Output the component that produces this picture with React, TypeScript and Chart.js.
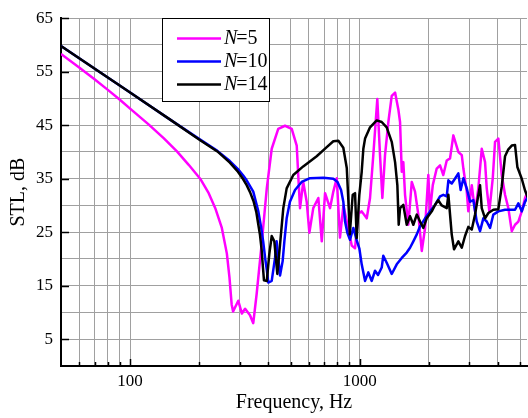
import React, { useEffect, useRef } from 'react';
import { Chart, registerables } from 'chart.js';

Chart.register(...registerables);

// ---- data (frequency in Hz, STL in dB) ----
const n5Freq = [50, 60, 70, 80, 90, 100, 120, 140, 160, 180, 202, 220, 235, 251, 264, 271, 277, 281, 296, 307, 317, 333, 344, 356, 374, 394, 414, 442, 473, 506, 532, 541, 550, 568, 588, 604, 628, 661, 684, 707, 743, 768, 795, 821, 850, 879, 924, 955, 987, 1021, 1074, 1110, 1147, 1194, 1227, 1256, 1290, 1334, 1380, 1427, 1474, 1500, 1526, 1550, 1577, 1630, 1687, 1743, 1802, 1865, 1928, 1992, 2026, 2083, 2167, 2240, 2315, 2396, 2477, 2560, 2692, 2786, 2831, 2929, 2976, 3080, 3183, 3290, 3404, 3519, 3579, 3674, 3802, 3890, 4021, 4160, 4300, 4445, 4600, 4754, 4914, 5085, 5256, 5400];
const n5Stl = [58.3, 55.8, 53.6, 51.6, 49.8, 48.1, 45.2, 42.6, 40.1, 37.6, 35.0, 32.3, 29.5, 25.8, 21.0, 16.5, 11.5, 10.2, 12.2, 9.8, 10.7, 9.5, 8.0, 13.5, 22.7, 33.2, 40.6, 44.3, 44.9, 44.3, 41.2, 35.1, 29.5, 34.4, 30.7, 24.9, 29.5, 31.4, 23.3, 32.3, 29.5, 32.6, 35.1, 24.0, 30.0, 27.0, 22.5, 22.0, 28.5, 28.9, 27.6, 31.4, 39.4, 49.9, 39.4, 31.4, 39.4, 45.6, 50.5, 51.1, 48.0, 45.6, 36.3, 38.1, 32.0, 26.4, 34.4, 32.6, 28.3, 21.5, 25.8, 35.7, 28.9, 33.8, 36.9, 37.5, 35.7, 38.4, 38.8, 43.1, 40.0, 39.4, 36.9, 32.6, 28.9, 33.8, 28.9, 33.2, 40.6, 38.1, 33.2, 28.9, 35.1, 41.9, 42.5, 35.7, 32.0, 29.5, 25.2, 26.4, 27.0, 28.9, 31.4, 32.6];

const n10Freq = [50, 100, 150, 202, 240, 272, 295, 311, 322, 344, 362, 372, 380, 388, 394, 400, 414, 428, 435, 450, 462, 470, 481, 497, 523, 559, 608, 695, 768, 801, 830, 849, 864, 884, 908, 939, 971, 997, 1021, 1056, 1091, 1129, 1167, 1203, 1248, 1268, 1312, 1380, 1451, 1526, 1604, 1658, 1714, 1774, 1833, 1928, 2026, 2130, 2240, 2315, 2396, 2436, 2519, 2602, 2692, 2755, 2831, 2929, 3027, 3129, 3237, 3346, 3459, 3579, 3700, 3824, 4021, 4300, 4525, 4754, 4914, 5085, 5256, 5400];
const n10Stl = [59.8, 51.1, 46.0, 42.3, 40.2, 38.3, 36.8, 35.6, 34.7, 32.6, 28.9, 26.0, 23.3, 20.0, 18.0, 15.6, 15.9, 20.2, 23.3, 16.9, 19.6, 23.3, 27.6, 30.7, 32.9, 34.4, 35.1, 35.2, 35.0, 34.4, 32.9, 30.7, 27.0, 24.9, 23.6, 25.8, 23.5, 22.0, 19.0, 15.9, 17.5, 15.9, 17.8, 17.0, 18.4, 20.6, 19.3, 17.2, 19.0, 20.2, 21.2, 22.1, 23.3, 24.6, 26.1, 27.6, 28.9, 30.1, 31.7, 32.0, 31.7, 34.7, 34.1, 35.0, 36.0, 32.9, 35.1, 33.2, 30.7, 31.0, 27.0, 25.2, 27.6, 27.0, 25.8, 28.3, 28.9, 29.2, 29.2, 29.2, 30.4, 28.9, 30.7, 31.5];

const n14Freq = [50, 100, 150, 202, 240, 272, 295, 311, 322, 333, 345, 355, 362, 368, 374, 379, 383, 394, 404, 414, 425, 438, 450, 465, 481, 514, 568, 650, 719, 768, 808, 849, 879, 893, 906, 933, 955, 971, 997, 1021, 1038, 1056, 1110, 1187, 1248, 1312, 1380, 1427, 1460, 1480, 1500, 1550, 1604, 1658, 1714, 1774, 1833, 1895, 1960, 2062, 2130, 2200, 2278, 2396, 2436, 2519, 2578, 2692, 2786, 2879, 2976, 3080, 3183, 3346, 3404, 3519, 3638, 3824, 4021, 4160, 4300, 4445, 4600, 4754, 4866, 5085, 5256, 5400];
const n14Stl = [59.8, 51.1, 46.0, 42.2, 40.1, 38.0, 36.3, 34.9, 33.8, 32.5, 30.8, 28.7, 26.4, 24.5, 21.8, 18.5, 16.0, 15.9, 20.9, 24.3, 23.3, 17.2, 22.7, 29.5, 33.2, 35.7, 37.3, 39.2, 40.9, 42.0, 42.1, 40.8, 37.0, 31.0, 24.6, 32.0, 32.3, 23.9, 32.0, 36.3, 40.6, 42.5, 44.6, 45.9, 45.6, 44.6, 41.9, 38.1, 33.8, 26.4, 29.5, 30.1, 26.4, 28.0, 26.4, 28.3, 27.0, 25.8, 27.6, 28.9, 30.1, 31.0, 30.0, 29.5, 32.0, 24.6, 21.8, 23.3, 22.1, 24.3, 26.0, 25.5, 28.3, 33.8, 29.5, 27.6, 28.6, 29.2, 29.3, 33.5, 39.2, 40.5, 41.2, 41.3, 37.2, 35.0, 32.8, 31.5];

const seriesLabels = ['N=5', 'N=10', 'N=14'];
const seriesColors = ['#ff00ff', '#0000ff', '#000000'];

const xMin = 50;
const xMax = 5360;
const yMin = 0;
const yMax = 65;
const xGridValues = [60, 70, 80, 90, 100, 200, 300, 400, 500, 600, 700, 800, 900, 1000, 2000, 3000, 4000, 5000];
const xTickLabels = [100, 1000];
const yGridValues = [0, 5, 10, 15, 20, 25, 30, 35, 40, 45, 50, 55, 60, 65];
const yTickLabels = [5, 15, 25, 35, 45, 55, 65];

const SERIF = "'Liberation Serif', 'Times New Roman', serif";

const toPoints = (fs: number[], vs: number[]) => fs.map((f, i) => ({ x: f, y: vs[i] }));

const innerTicks = {
  id: 'innerTicks',
  afterDraw(chart: any) {
    const { ctx, chartArea, scales } = chart;
    ctx.save();
    ctx.strokeStyle = '#000';
    ctx.lineWidth = 1.5;
    ctx.beginPath();
    for (const v of yTickLabels) {
      const y = Math.round(scales.y.getPixelForValue(v)) + 0.5;
      ctx.moveTo(chartArea.left, y);
      ctx.lineTo(chartArea.left + 8, y);
    }
    for (const v of xGridValues) {
      const x = Math.round(scales.x.getPixelForValue(v)) + 0.5;
      const len = xTickLabels.includes(v) ? 7 : 4;
      ctx.moveTo(x, chartArea.bottom);
      ctx.lineTo(x, chartArea.bottom - len);
    }
    ctx.stroke();
    ctx.restore();
  },
};

const boxLegend = {
  id: 'boxLegend',
  afterDraw(chart: any) {
    const { ctx } = chart;
    const bx = 162, by = 18, bw = 107, bh = 83;
    ctx.save();
    ctx.fillStyle = '#fff';
    ctx.fillRect(bx, by, bw, bh);
    ctx.strokeStyle = '#000';
    ctx.lineWidth = 1;
    ctx.strokeRect(bx + 0.5, by + 0.5, bw, bh);
    seriesLabels.forEach((lab, i) => {
      const y = 38.5 + i * 23;
      ctx.strokeStyle = seriesColors[i];
      ctx.lineWidth = 2.5;
      ctx.beginPath();
      ctx.moveTo(177, y);
      ctx.lineTo(221, y);
      ctx.stroke();
      ctx.fillStyle = '#000';
      ctx.textBaseline = 'middle';
      ctx.textAlign = 'left';
      ctx.font = `italic 20px ${SERIF}`;
      const head = lab.slice(0, 1);
      ctx.fillText(head, 224, y);
      const w = ctx.measureText(head).width;
      ctx.font = `20px ${SERIF}`;
      ctx.fillText(lab.slice(1), 224 + w - 1, y);
    });
    ctx.restore();
  },
};

export default function App() {
  const ref = useRef<HTMLCanvasElement>(null);

  useEffect(() => {
    if (!ref.current) return;
    const chart = new Chart(ref.current, {
      type: 'line',
      data: {
        datasets: [
          { label: seriesLabels[0], data: toPoints(n5Freq, n5Stl), borderColor: seriesColors[0], borderWidth: 2.5, pointRadius: 0, order: 2 },
          { label: seriesLabels[1], data: toPoints(n10Freq, n10Stl), borderColor: seriesColors[1], borderWidth: 2.5, pointRadius: 0, order: 1 },
          { label: seriesLabels[2], data: toPoints(n14Freq, n14Stl), borderColor: seriesColors[2], borderWidth: 2.5, pointRadius: 0, order: 0 },
        ],
      },
      options: {
        responsive: false,
        animation: false,
        devicePixelRatio: 1,
        layout: { padding: { top: 14, right: 1, left: 0, bottom: 0 } },
        plugins: { legend: { display: false }, tooltip: { enabled: false } },
        elements: { line: { tension: 0, borderJoinStyle: 'round' } },
        scales: {
          x: {
            type: 'logarithmic',
            min: xMin,
            max: xMax,
            afterBuildTicks: (s: any) => { s.ticks = xGridValues.map((v) => ({ value: v })); },
            afterFit: (s: any) => { s.height = 52; },
            ticks: {
              autoSkip: false,
              maxRotation: 0,
              padding: 5,
              color: '#000',
              font: { family: SERIF, size: 17 },
              callback: (v: any) => (xTickLabels.includes(Number(v)) ? String(v) : ''),
            },
            grid: { color: '#a0a0a0', lineWidth: 1, drawTicks: false },
            border: { color: '#000', width: 2 },
            title: { display: true, text: 'Frequency, Hz', color: '#000', font: { family: SERIF, size: 20 }, padding: { top: 0, bottom: 3 } },
          },
          y: {
            type: 'linear',
            min: yMin,
            max: yMax,
            afterBuildTicks: (s: any) => { s.ticks = yGridValues.map((v) => ({ value: v })); },
            afterFit: (s: any) => { s.width = 61; },
            ticks: {
              autoSkip: false,
              padding: 8,
              color: '#000',
              font: { family: SERIF, size: 17 },
              callback: (v: any) => (yTickLabels.includes(Number(v)) ? String(v) : ''),
            },
            grid: { color: '#a0a0a0', lineWidth: 1, drawTicks: false },
            border: { color: '#000', width: 2 },
            title: { display: true, text: 'STL, dB', color: '#000', font: { family: SERIF, size: 20 }, padding: { top: 7, bottom: 0 } },
          },
        },
      },
      plugins: [innerTicks, boxLegend],
    } as any);
    return () => chart.destroy();
  }, []);

  return (
    <div style={{ position: 'absolute', left: 0, top: 0, width: 528, height: 418, background: '#fff' }}>
      <canvas ref={ref} width={528} height={418} style={{ display: 'block', width: 528, height: 418 }} />
    </div>
  );
}
